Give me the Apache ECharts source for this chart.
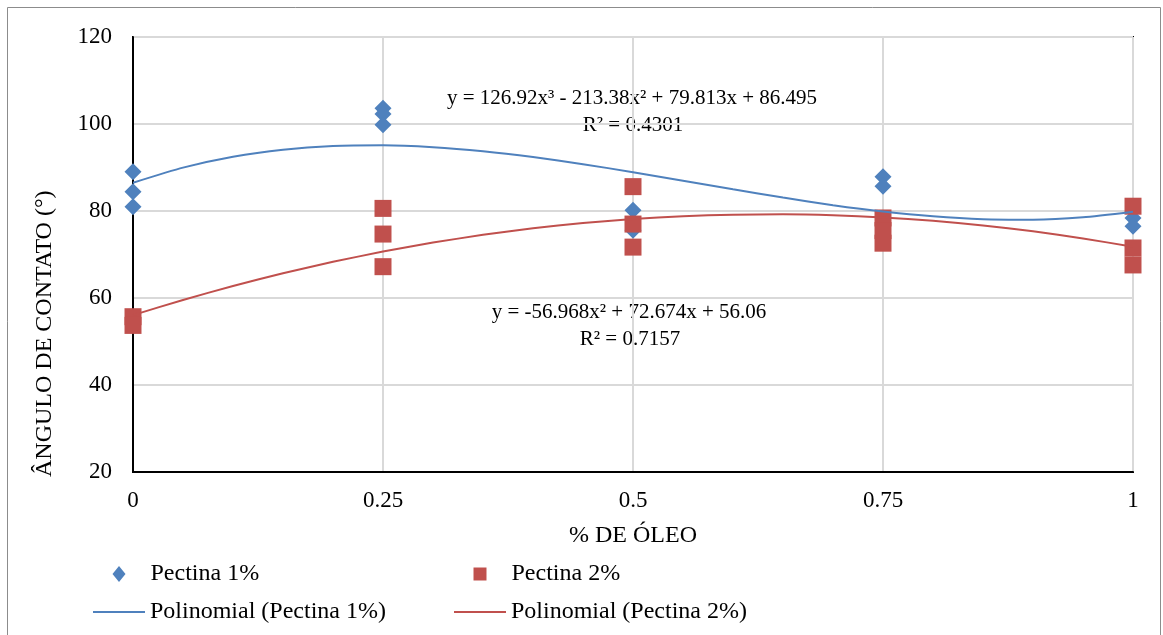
<!DOCTYPE html>
<html>
<head>
<meta charset="utf-8">
<script src="https://cdn.jsdelivr.net/npm/echarts@6/dist/echarts.min.js"></script>
<style>
html,body{margin:0;padding:0;background:#fff;}
#chart{width:1163px;height:635px;}
</style>
</head>
<body>
<div id="chart"></div>
<script>
// ---- data ----
const oilPct = [0, 0.25, 0.5, 0.75, 1];
const xTickLabels = ['0', '0.25', '0.5', '0.75', '1'];
const pectina1 = [[89.0, 84.4, 81.0], [103.6, 102.3, 99.8], [80.2, 75.6], [87.9, 85.7], [78.4, 76.5]];
const pectina2 = [[55.7, 53.7], [80.6, 74.7, 67.2], [85.6, 77.0, 71.7], [78.4, 75.5, 72.6], [81.1, 71.5, 67.6]];
// trend curves
const trendX = [0, 0.05, 0.1, 0.15, 0.2, 0.25, 0.3, 0.35, 0.4, 0.45, 0.5, 0.55, 0.6, 0.65, 0.7, 0.75, 0.8, 0.85, 0.9, 0.95, 1];
const trend1 = [86.50, 89.97, 92.47, 94.09, 94.94, 95.10, 94.66, 93.73, 92.40, 90.77, 88.92, 86.96, 84.98, 83.08, 81.34, 79.87, 78.77, 78.11, 78.01, 78.56, 79.85];
const trend2 = [56.06, 59.55, 62.76, 65.68, 68.32, 70.67, 72.74, 74.52, 76.01, 77.23, 78.16, 78.80, 79.16, 79.23, 79.02, 78.52, 77.74, 76.67, 75.32, 73.69, 71.77];
const seriesNames = ['Pectina 1%', 'Pectina 2%', 'Polinomial (Pectina 1%)', 'Polinomial (Pectina 2%)'];
const eq1 = ['y = 126.92x³ - 213.38x² + 79.813x + 86.495', 'R² = 0.4301'];
const eq2 = ['y = -56.968x² + 72.674x + 56.06', 'R² = 0.7157'];
const yTitle = 'ÂNGULO DE CONTATO (°)';
const xTitle = '% DE ÓLEO';

const BLUE = '#4F81BD', RED = '#C0504D';
const FONT = 'Liberation Serif, Times New Roman, serif';

function pairs(groups) {
  const out = [];
  groups.forEach((g, i) => g.forEach(v => out.push([oilPct[i], v])));
  return out;
}
function zip(xs, ys) { return xs.map((x, i) => [x, ys[i]]); }

const chart = echarts.init(document.getElementById('chart'), null, {renderer: 'canvas'});
const legendBase = {orient: 'horizontal', padding: 0, selectedMode: false,
  textStyle: {fontFamily: FONT, fontSize: 24, color: '#000'}};

chart.setOption({
  backgroundColor: '#fff',
  animation: false,
  grid: {left: 133, right: 30, top: 37, bottom: 163, show: true, borderColor: '#000', borderWidth: 2, backgroundColor: 'transparent'},
  xAxis: {
    type: 'value', min: 0, max: 1, interval: 0.25,
    name: xTitle, nameLocation: 'middle', nameGap: 52,
    nameTextStyle: {fontFamily: FONT, fontSize: 24, color: '#000'},
    axisLine: {show: true, lineStyle: {color: '#000', width: 2}},
    axisTick: {show: false},
    axisLabel: {fontFamily: FONT, fontSize: 23, color: '#000', margin: 17,
      formatter: v => xTickLabels[Math.round(v / 0.25)]},
    splitLine: {show: true, lineStyle: {color: '#d9d9d9', width: 2}}
  },
  yAxis: {
    type: 'value', min: 20, max: 120, interval: 20,
    axisLine: {show: true, lineStyle: {color: '#000', width: 2}},
    axisTick: {show: false},
    axisLabel: {fontFamily: FONT, fontSize: 23, color: '#000', margin: 21},
    splitLine: {show: true, lineStyle: {color: '#d9d9d9', width: 2}}
  },
  legend: [
    Object.assign({}, legendBase, {data: [seriesNames[0]], left: 112.5, top: 562, icon: 'diamond', itemWidth: 13, itemHeight: 16,
      itemStyle: {opacity: 1},
      textStyle: Object.assign({}, legendBase.textStyle, {padding: [0, 0, 0, 20]})}),
    Object.assign({}, legendBase, {data: [seriesNames[1]], left: 473.5, top: 562, icon: 'rect', itemWidth: 13, itemHeight: 13,
      itemStyle: {opacity: 1},
      textStyle: Object.assign({}, legendBase.textStyle, {padding: [0, 0, 0, 20]})}),
    Object.assign({}, legendBase, {data: [seriesNames[2]], left: 93, top: 600, icon: 'rect', itemWidth: 52, itemHeight: 2}),
    Object.assign({}, legendBase, {data: [seriesNames[3]], left: 454, top: 600, icon: 'rect', itemWidth: 52, itemHeight: 2})
  ],
  graphic: [
    {type: 'rect', z: -10, silent: true, shape: {x: 7.5, y: 7.5, width: 1153, height: 629}, style: {fill: 'none', stroke: '#8c8c8c', lineWidth: 1}},
    {type: 'text', x: 45, y: 477, rotation: Math.PI / 2, style: {text: yTitle, fontFamily: FONT, fontSize: 24, fill: '#000', align: 'left', verticalAlign: 'middle'}},
    {type: 'text', x: 632, y: 98, style: {text: eq1[0], fontFamily: FONT, fontSize: 21, fill: '#000', align: 'center', verticalAlign: 'middle'}},
    {type: 'text', x: 633, y: 125, style: {text: eq1[1], fontFamily: FONT, fontSize: 21, fill: '#000', align: 'center', verticalAlign: 'middle'}},
    {type: 'text', x: 629, y: 312, style: {text: eq2[0], fontFamily: FONT, fontSize: 21, fill: '#000', align: 'center', verticalAlign: 'middle'}},
    {type: 'text', x: 630, y: 339, style: {text: eq2[1], fontFamily: FONT, fontSize: 21, fill: '#000', align: 'center', verticalAlign: 'middle'}}
  ],
  series: [
    {name: seriesNames[0], type: 'scatter', symbol: 'diamond', symbolSize: 17, itemStyle: {color: BLUE, opacity: 1}, data: pairs(pectina1), z: 3},
    {name: seriesNames[1], type: 'scatter', symbol: 'rect', symbolSize: 17, itemStyle: {color: RED, opacity: 1}, data: pairs(pectina2), z: 4},
    {name: seriesNames[2], type: 'line', smooth: 0.2, showSymbol: false, symbol: 'none', lineStyle: {color: BLUE, width: 2}, itemStyle: {color: BLUE}, data: zip(trendX, trend1), z: 5},
    {name: seriesNames[3], type: 'line', smooth: 0.2, showSymbol: false, symbol: 'none', lineStyle: {color: RED, width: 2}, itemStyle: {color: RED}, data: zip(trendX, trend2), z: 5}
  ]
});
</script>
</body>
</html>
